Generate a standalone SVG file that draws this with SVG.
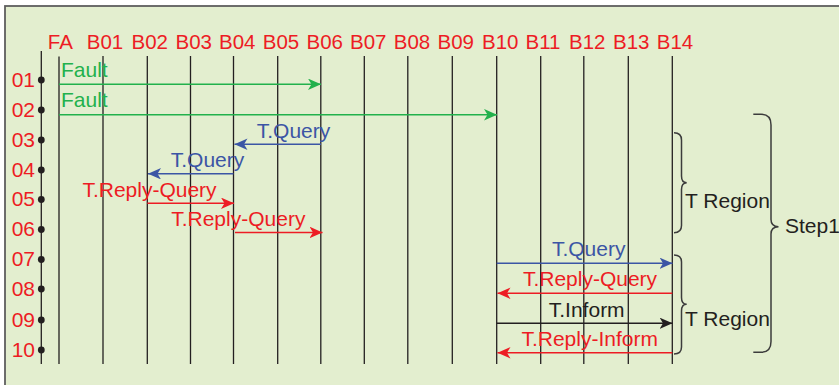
<svg xmlns="http://www.w3.org/2000/svg" width="839" height="385" viewBox="0 0 839 385">
  <style>
    text { font-family: "Liberation Sans", Arial, sans-serif; }
    .hdr { font-size: 20.5px; fill: #ed1c24; text-anchor: middle; }
    .row { font-size: 21px; fill: #ed1c24; text-anchor: end; }
    .lbl { font-size: 21px; text-anchor: middle; }
    .life { stroke: #231f20; stroke-width: 1.3; fill: none; }
    .msg { stroke-width: 1.5; fill: none; }
    .green { stroke: #22b14c; }
    .blue { stroke: #3b55a5; }
    .red { stroke: #ed1c24; }
    .black { stroke: #231f20; }
    .tg { fill: #22b14c; }
    .tb { fill: #3b55a5; }
    .tr { fill: #ed1c24; }
    .tk { fill: #231f20; }
    .brace { stroke: #3c3c3c; stroke-width: 1.5; fill: none; }
    .note { font-size: 21px; fill: #231f20; }
  </style>
  <defs>
    <marker id="ah-green" markerUnits="userSpaceOnUse" markerWidth="14" markerHeight="12" refX="13" refY="5.75" orient="auto">
      <path d="M0,0 L13,5.75 L0,11.5 L3.5,5.75 z" fill="#22b14c"/>
    </marker>
    <marker id="ah-blue" markerUnits="userSpaceOnUse" markerWidth="14" markerHeight="12" refX="13" refY="5.75" orient="auto">
      <path d="M0,0 L13,5.75 L0,11.5 L3.5,5.75 z" fill="#3b55a5"/>
    </marker>
    <marker id="ah-red" markerUnits="userSpaceOnUse" markerWidth="14" markerHeight="12" refX="13" refY="5.75" orient="auto">
      <path d="M0,0 L13,5.75 L0,11.5 L3.5,5.75 z" fill="#ed1c24"/>
    </marker>
    <marker id="ah-black" markerUnits="userSpaceOnUse" markerWidth="14" markerHeight="12" refX="13" refY="5.75" orient="auto">
      <path d="M0,0 L13,5.75 L0,11.5 L3.5,5.75 z" fill="#231f20"/>
    </marker>
  </defs>

  <!-- page and panel frame -->
  <rect x="0" y="0" width="839" height="385" fill="#ffffff"/>
  <rect x="5" y="6" width="850" height="400" fill="#e3eecf" stroke="#5e5e5e" stroke-width="1.8"/>

  <!-- time axis with step markers -->
  <g id="time-axis">
    <line x1="41.3" y1="51" x2="41.3" y2="364" class="life"/>
    <g fill="#231f20">
      <circle cx="41.3" cy="80" r="3.4"/>
      <circle cx="41.3" cy="110" r="3.4"/>
      <circle cx="41.3" cy="140" r="3.4"/>
      <circle cx="41.3" cy="170" r="3.4"/>
      <circle cx="41.3" cy="199.5" r="3.4"/>
      <circle cx="41.3" cy="229.5" r="3.4"/>
      <circle cx="41.3" cy="259.5" r="3.4"/>
      <circle cx="41.3" cy="289" r="3.4"/>
      <circle cx="41.3" cy="320" r="3.4"/>
      <circle cx="41.3" cy="350" r="3.4"/>
    </g>
    <text class="row" x="35" y="86.5">01</text>
    <text class="row" x="35" y="116.5">02</text>
    <text class="row" x="35" y="146.5">03</text>
    <text class="row" x="35" y="176.5">04</text>
    <text class="row" x="35" y="206">05</text>
    <text class="row" x="35" y="236">06</text>
    <text class="row" x="35" y="266">07</text>
    <text class="row" x="35" y="295.5">08</text>
    <text class="row" x="35" y="326.5">09</text>
    <text class="row" x="35" y="356.5">10</text>
  </g>

  <!-- lifelines -->
  <g id="FA"><text class="hdr" x="60.3" y="49.3">FA</text><line class="life" x1="59" y1="56.5" x2="59" y2="364"/></g>
  <g id="B01"><text class="hdr" x="105" y="49.3">B01</text><line class="life" x1="103" y1="56" x2="103" y2="364"/></g>
  <g id="B02"><text class="hdr" x="149.8" y="49.3">B02</text><line class="life" x1="147.3" y1="56" x2="147.3" y2="364"/></g>
  <g id="B03"><text class="hdr" x="193.7" y="49.3">B03</text><line class="life" x1="190.5" y1="56" x2="190.5" y2="364"/></g>
  <g id="B04"><text class="hdr" x="237.3" y="49.3">B04</text><line class="life" x1="233.5" y1="56" x2="233.5" y2="364"/></g>
  <g id="B05"><text class="hdr" x="281" y="49.3">B05</text><line class="life" x1="277.7" y1="56" x2="277.7" y2="364"/></g>
  <g id="B06"><text class="hdr" x="324.7" y="49.3">B06</text><line class="life" x1="320.8" y1="56" x2="320.8" y2="364"/></g>
  <g id="B07"><text class="hdr" x="368.3" y="49.3">B07</text><line class="life" x1="364.3" y1="56" x2="364.3" y2="364"/></g>
  <g id="B08"><text class="hdr" x="412" y="49.3">B08</text><line class="life" x1="407.8" y1="56" x2="407.8" y2="364"/></g>
  <g id="B09"><text class="hdr" x="455.8" y="49.3">B09</text><line class="life" x1="452.3" y1="56" x2="452.3" y2="364"/></g>
  <g id="B10"><text class="hdr" x="500.3" y="49.3">B10</text><line class="life" x1="496.7" y1="56" x2="496.7" y2="364"/></g>
  <g id="B11"><text class="hdr" x="543" y="49.3">B11</text><line class="life" x1="540.7" y1="56" x2="540.7" y2="364"/></g>
  <g id="B12"><text class="hdr" x="587.3" y="49.3">B12</text><line class="life" x1="583.8" y1="56" x2="583.8" y2="364"/></g>
  <g id="B13"><text class="hdr" x="631.3" y="49.3">B13</text><line class="life" x1="628.3" y1="56" x2="628.3" y2="364"/></g>
  <g id="B14"><text class="hdr" x="675" y="49.3">B14</text><line class="life" x1="672.3" y1="56" x2="672.3" y2="364"/></g>

  <!-- messages -->
  <g id="connectors">
    <line class="msg green" x1="59" y1="84.3" x2="321" y2="84.3" marker-end="url(#ah-green)"/>
    <text class="tg" x="61" y="77" font-size="21">Fault</text>

    <line class="msg green" x1="59" y1="114.7" x2="497" y2="114.7" marker-end="url(#ah-green)"/>
    <text class="tg" x="61" y="107" font-size="21">Fault</text>

    <line class="msg blue" x1="321" y1="144.2" x2="234.5" y2="144.2" marker-end="url(#ah-blue)"/>
    <text class="lbl tb" x="293.5" y="137.5">T.Query</text>

    <line class="msg blue" x1="233.5" y1="173.7" x2="148" y2="173.7" marker-end="url(#ah-blue)"/>
    <text class="lbl tb" x="207.5" y="166.5">T.Query</text>

    <line class="msg red" x1="147.3" y1="203.3" x2="234" y2="203.3" marker-end="url(#ah-red)"/>
    <text class="lbl tr" x="149.5" y="196.5">T.Reply-Query</text>

    <line class="msg red" x1="235" y1="232.4" x2="322.5" y2="232.4" marker-end="url(#ah-red)"/>
    <text class="lbl tr" x="238.3" y="226">T.Reply-Query</text>

    <line class="msg blue" x1="496.7" y1="263.3" x2="672.5" y2="263.3" marker-end="url(#ah-blue)"/>
    <text class="lbl tb" x="588.7" y="256">T.Query</text>

    <line class="msg red" x1="672.3" y1="293.3" x2="497.5" y2="293.3" marker-end="url(#ah-red)"/>
    <text class="lbl tr" x="590" y="286">T.Reply-Query</text>

    <line class="msg black" x1="496.7" y1="323.3" x2="672.5" y2="323.3" marker-end="url(#ah-black)"/>
    <text class="lbl tk" x="586.7" y="316.7">T.Inform</text>

    <line class="msg red" x1="672.3" y1="352.8" x2="497.5" y2="352.8" marker-end="url(#ah-red)"/>
    <text class="lbl tr" x="589.7" y="346">T.Reply-Inform</text>
  </g>

  <!-- region braces -->
  <g id="region-1">
    <path class="brace" d="M674,132.7 Q681.5,132.7 681.5,140 L681.5,176 Q681.5,182.7 686.7,182.7 Q681.5,182.7 681.5,189.5 L681.5,225.5 Q681.5,232.7 674,232.7"/>
    <text class="note" x="685" y="208.3">T Region</text>
  </g>
  <g id="region-2">
    <path class="brace" d="M674,255 Q681.5,255 681.5,262 L681.5,297.5 Q681.5,304.3 686.7,304.3 Q681.5,304.3 681.5,311 L681.5,347 Q681.5,354 674,354"/>
    <text class="note" x="685" y="325.7">T Region</text>
  </g>
  <g id="step1">
    <path class="brace" d="M753.3,114.3 L761,114.3 Q771,114.3 771,125 L771,219.5 Q771,226.7 778.5,226.7 Q771,226.7 771,234 L771,341.5 Q771,352.3 761,352.3 L753.3,352.3"/>
    <text class="note" x="785" y="233" font-size="20.5">Step1</text>
  </g>
</svg>
